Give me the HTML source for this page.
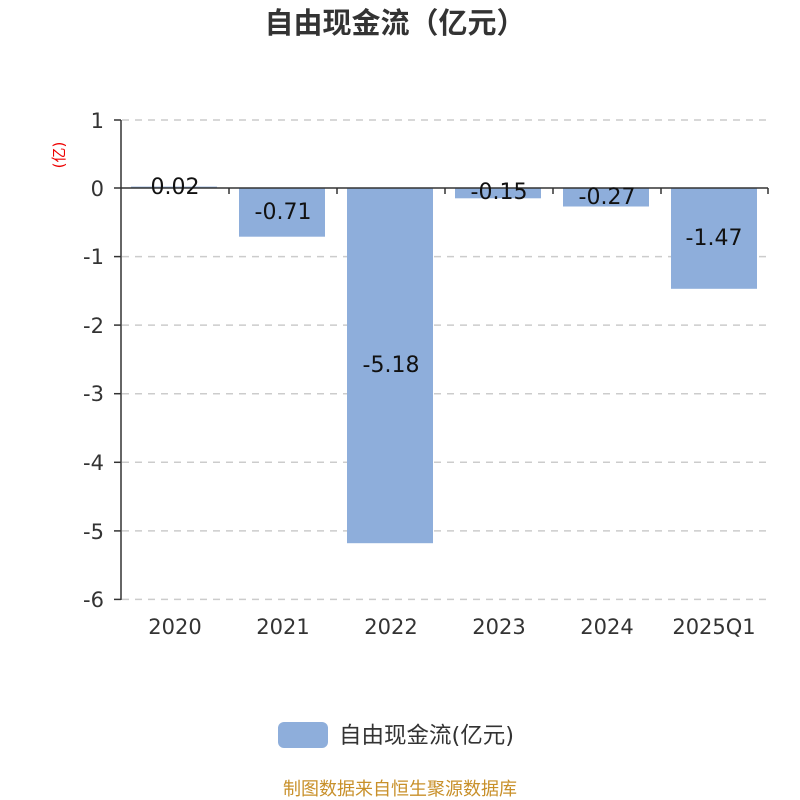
<!DOCTYPE html>
<html><head><meta charset="utf-8"><style>body{margin:0;background:#fff}svg{display:block}text{font-family:"DejaVu Sans","Noto Sans CJK SC",sans-serif}</style></head><body>
<svg width="800" height="800" viewBox="0 0 800 800" xmlns="http://www.w3.org/2000/svg">
<text x="395" y="33" text-anchor="middle" font-size="29" font-weight="bold" fill="#333" style="font-family:'Noto Sans CJK SC',sans-serif">自由现金流（亿元）</text>
<text transform="translate(64,155) rotate(-90)" text-anchor="middle" font-size="15" fill="#e00">(亿)</text>
<g stroke="#ccc" stroke-width="1.5" stroke-dasharray="7,6">
<line x1="122" y1="120" x2="768" y2="120"/><line x1="122" y1="256.6" x2="768" y2="256.6"/><line x1="122" y1="325.1" x2="768" y2="325.1"/><line x1="122" y1="393.7" x2="768" y2="393.7"/><line x1="122" y1="462.3" x2="768" y2="462.3"/><line x1="122" y1="530.9" x2="768" y2="530.9"/><line x1="122" y1="599.4" x2="768" y2="599.4"/>
</g>
<g fill="#8eaedb">
<rect x="131" y="186.6" width="86" height="1.4"/>
<rect x="239" y="188" width="86" height="48.7"/>
<rect x="347" y="188" width="86" height="355.2"/>
<rect x="455" y="188" width="86" height="10.3"/>
<rect x="563" y="188" width="86" height="18.5"/>
<rect x="671" y="188" width="86" height="100.8"/>
</g>
<g stroke="#333" stroke-width="1.5">
<line x1="121" y1="120" x2="121" y2="600"/><line x1="121" y1="188" x2="768" y2="188"/>
<line x1="114" y1="120" x2="121" y2="120"/><line x1="114" y1="188" x2="121" y2="188"/><line x1="114" y1="256.6" x2="121" y2="256.6"/><line x1="114" y1="325.1" x2="121" y2="325.1"/><line x1="114" y1="393.7" x2="121" y2="393.7"/><line x1="114" y1="462.3" x2="121" y2="462.3"/><line x1="114" y1="530.9" x2="121" y2="530.9"/><line x1="114" y1="599.4" x2="121" y2="599.4"/>
<line x1="229" y1="188" x2="229" y2="194"/><line x1="337" y1="188" x2="337" y2="194"/><line x1="445" y1="188" x2="445" y2="194"/><line x1="553" y1="188" x2="553" y2="194"/><line x1="661" y1="188" x2="661" y2="194"/><line x1="768" y1="188" x2="768" y2="194"/>
</g>
<g font-size="21" fill="#333" text-anchor="end">
<text x="104" y="128">1</text><text x="104" y="196">0</text><text x="104" y="264">-1</text><text x="104" y="333">-2</text><text x="104" y="401">-3</text><text x="104" y="470">-4</text><text x="104" y="539">-5</text><text x="104" y="607">-6</text>
</g>
<g font-size="21" fill="#333" text-anchor="middle">
<text x="175" y="634">2020</text><text x="283" y="634">2021</text><text x="391" y="634">2022</text><text x="499" y="634">2023</text><text x="607" y="634">2024</text><text x="714" y="634">2025Q1</text>
</g>
<g font-size="22" fill="#111" text-anchor="middle">
<text x="175" y="194">0.02</text><text x="283" y="219">-0.71</text><text x="391" y="372">-5.18</text><text x="499" y="199">-0.15</text><text x="607" y="204">-0.27</text><text x="714" y="245">-1.47</text>
</g>
<rect x="278" y="722" width="50" height="26" rx="6" fill="#8eaedb"/>
<text x="339" y="743" font-size="22.5" fill="#333">自由现金流(亿元)</text>
<text x="400" y="795" text-anchor="middle" font-size="18" fill="#c8902a">制图数据来自恒生聚源数据库</text>
</svg>
</body></html>
